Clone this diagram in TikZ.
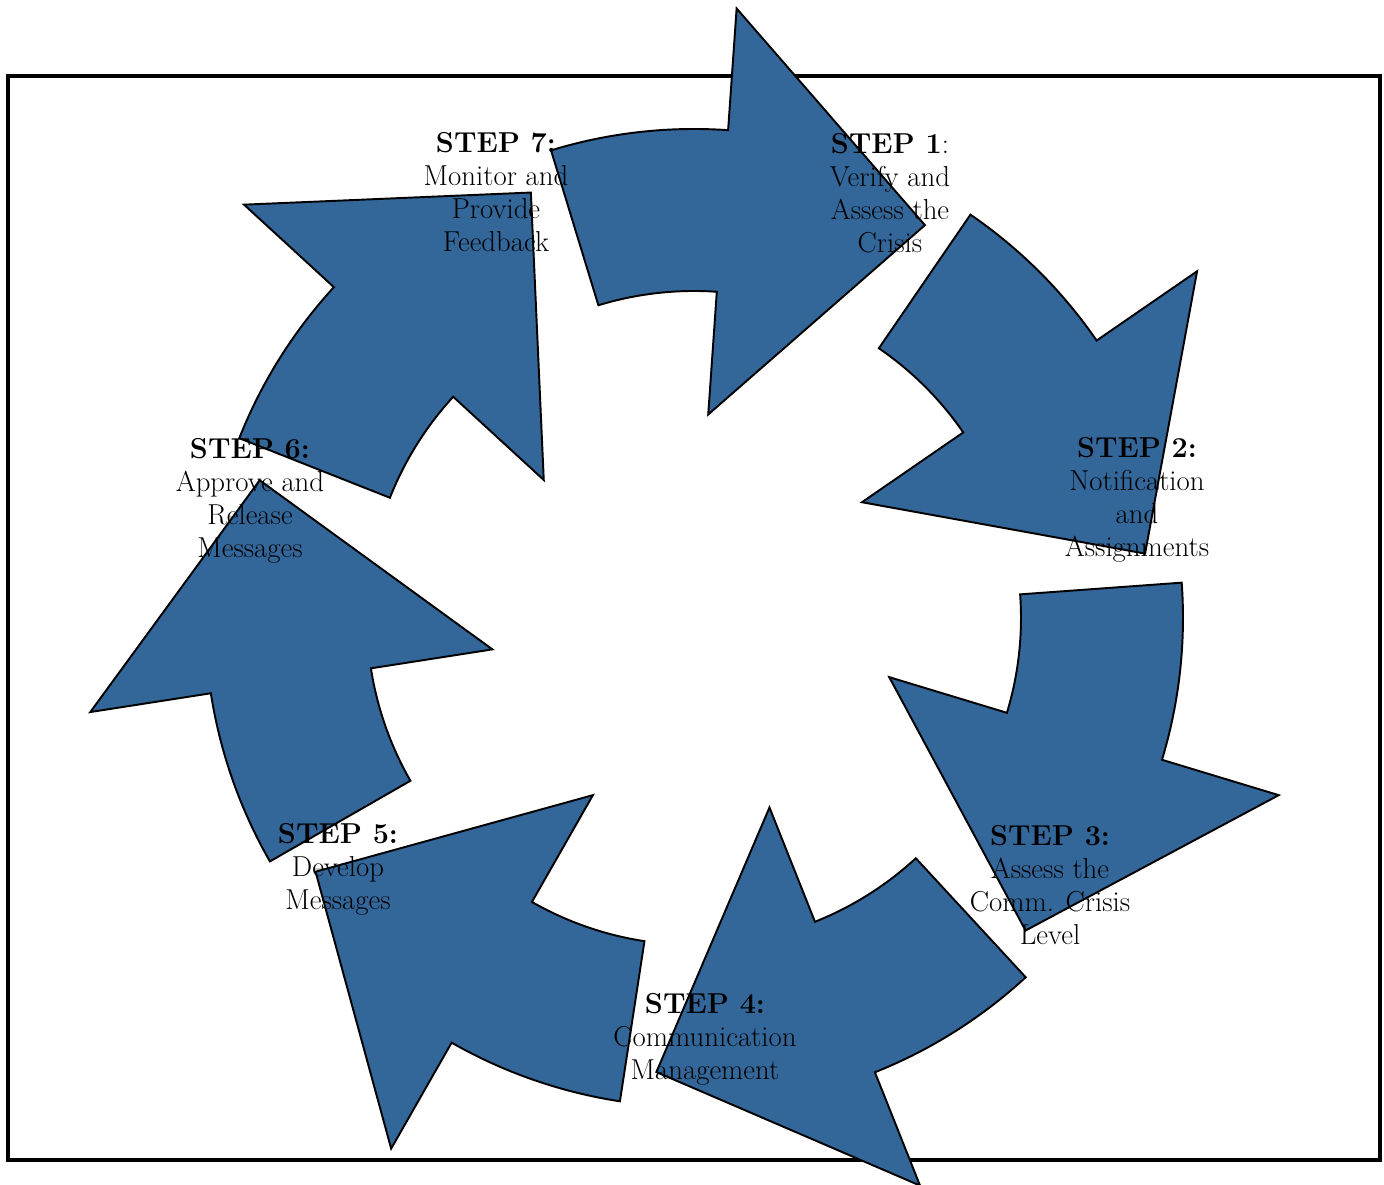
\documentclass[tikz,border=0pt]{standalone}
\usetikzlibrary{positioning}
\definecolor{stepblue}{RGB}{51,102,153}

\begin{document}
\begin{tikzpicture}[
    x=0.02cm, y=0.02cm,
    every node/.style={font=\fontsize{16.4}{18.8}\selectfont, align=center, inner sep=0pt},
    frame/.style={draw, line width=2.3pt},
    stepfill/.style={fill=stepblue, draw=black, line width=1.1pt, line join=miter},
    cyclearrow/.pic={
        \path[stepfill] (0:489) arc[start angle=0, end angle=-21, radius=489]
            -- (-21:611) -- (-47.45:455.7) -- (-21:204) -- (-21:327)
            arc[start angle=-21, end angle=0, radius=327] -- cycle;
    }
]
\useasboundingbox (0,0) rectangle (1384,1185);
\draw[frame] (8,1109) rectangle (1380,25);
\coordinate (hub) at (694,567);
% seven bent arrows round the hub
\foreach \k in {0,...,6}
    \pic[rotate=107-51.4286*\k] at (hub) {cyclearrow};
\node (step1) at (890,992) {\textbf{STEP 1}:\\Verify and\\Assess the\\Crisis};
\node (step2) at (1137,685) {\textbf{STEP 2:}\\Notification\\and\\Assignments};
\node (step3) at (1050,300) {\textbf{STEP 3:}\\Assess the\\Comm. Crisis\\Level};
\node (step4) at (705,146) {\textbf{STEP 4:}\\Communication\\Management};
\node (step5) at (338,316) {\textbf{STEP 5:}\\Develop\\Messages};
\node (step6) at (250,684) {\textbf{STEP 6:}\\Approve and\\Release\\Messages};
\node (step7) at (496,993) {\textbf{STEP 7:}\\Monitor and\\Provide\\Feedback};
\end{tikzpicture}
\end{document}
